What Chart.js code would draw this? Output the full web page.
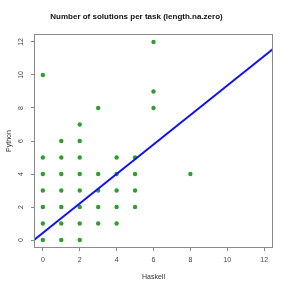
<!DOCTYPE html>
<html><head><meta charset="utf-8">
<script src="https://cdn.jsdelivr.net/npm/chart.js@4"></script>
<style>html,body{margin:0;padding:0;background:#fff}#wrap{width:291px;height:291px}</style>
</head><body><div id="wrap"><canvas id="c" width="291" height="291"></canvas></div>
<script>
const chartTitle = "Number of solutions per task (length.na.zero)";
const xLabel = "Haskell";
const yLabel = "Python";
const xTicks = [0, 2, 4, 6, 8, 10, 12];
const yTicks = [0, 2, 4, 6, 8, 10, 12];
const haskell = [0,0,0,0,0,0,0, 1,1,1,1,1,1,1, 2,2,2,2,2,2,2,2, 3,3,3,3,3, 4,4,4,4,4, 5,5,5,5, 6,6,6, 8];
const python  = [0,1,2,3,4,5,10, 0,1,2,3,4,5,6, 0,1,2,3,4,5,6,7, 1,2,3,4,8, 1,2,3,4,5, 2,3,4,5, 8,9,12, 4];
const fitX = [-0.48, 12.48];
const fitY = [0.0, 11.57];
const axisMin = -0.48, axisMax = 12.48;

const pts = haskell.map((h, i) => ({x: h, y: python[i]}));
const linePts = fitX.map((x, i) => ({x: x, y: fitY[i]}));

const boxPlugin = {
  id: 'box',
  afterDraw(chart) {
    const a = chart.chartArea, ctx = chart.ctx;
    ctx.save();
    ctx.strokeStyle = '#8a8a8a';
    ctx.lineWidth = 1;
    ctx.strokeRect(Math.round(a.left) + 0.5, Math.round(a.top) + 0.5, Math.round(a.right - a.left) - 1, Math.round(a.bottom - a.top) - 1);
    ctx.restore();
  }
};

const fontFam = "'Liberation Sans', Arial, sans-serif";
new Chart(document.getElementById('c'), {
  type: 'scatter',
  data: {
    datasets: [
      { type: 'line', data: linePts, borderColor: '#1010f0', borderWidth: 2, pointRadius: 0, fill: false, order: 0 },
      { data: pts, backgroundColor: '#2e9e2e', borderColor: '#2e9e2e', pointRadius: 2.2, borderWidth: 0, order: 1 }
    ]
  },
  options: {
    responsive: false,
    animation: false,
    devicePixelRatio: 1,
    layout: { padding: { left: 0, right: 18, top: 0, bottom: 0 } },
    plugins: {
      legend: { display: false },
      tooltip: { enabled: false },
      title: {
        display: true, text: chartTitle, color: '#111',
        font: { family: fontFam, size: 8, weight: 'bold' },
        padding: { top: 12, bottom: 12.4 }
      }
    },
    scales: {
      x: {
        type: 'linear', min: axisMin, max: axisMax,
        afterBuildTicks: s => { s.ticks = xTicks.map(v => ({value: v})); },
        afterFit: s => { s.height = 43; },
        grid: { drawOnChartArea: false, tickLength: 3, color: '#8a8a8a' },
        border: { display: false },
        ticks: { color: '#444', font: { family: fontFam, size: 7 }, padding: 5, maxRotation: 0, minRotation: 0 },
        title: { display: true, text: xLabel, color: '#333', font: { family: fontFam, size: 7 }, padding: { top: 0, bottom: 9.8 } }
      },
      y: {
        type: 'linear', min: axisMin, max: axisMax,
        afterBuildTicks: s => { s.ticks = yTicks.map(v => ({value: v})); },
        afterFit: s => { s.width = 34; },
        grid: { drawOnChartArea: false, tickLength: 3, color: '#8a8a8a' },
        border: { display: false },
        ticks: { color: '#444', font: { family: fontFam, size: 7 }, padding: 6.4, minRotation: 90, maxRotation: 90, crossAlign: 'center' },
        title: { display: true, text: yLabel, color: '#333', font: { family: fontFam, size: 7 }, padding: { top: 4.8, bottom: 0 } }
      }
    }
  },
  plugins: [boxPlugin]
});
</script></body></html>
